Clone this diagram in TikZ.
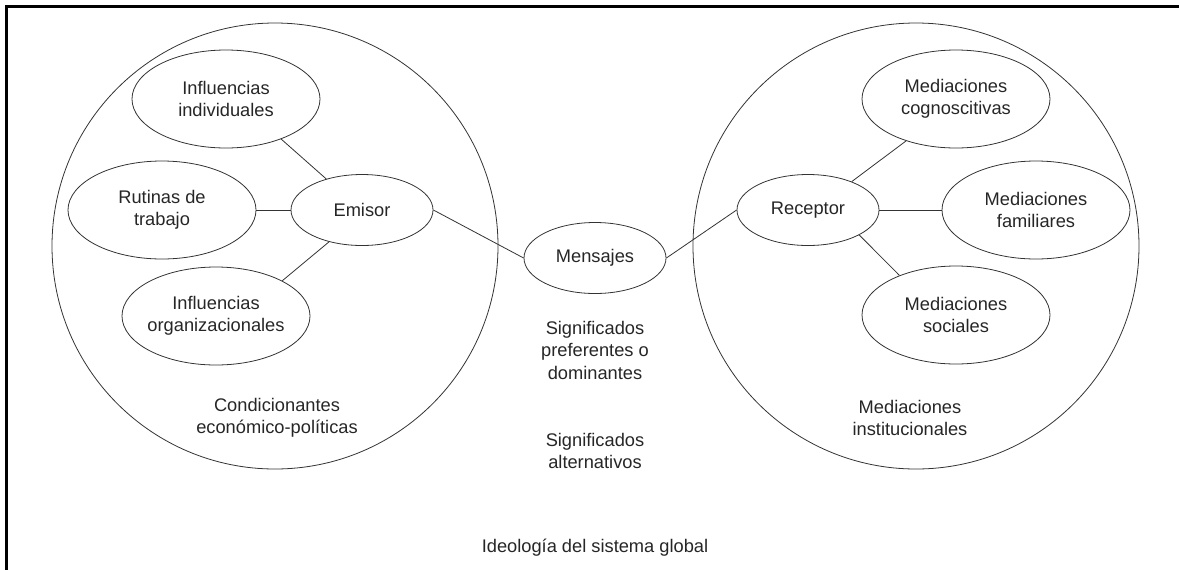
\documentclass[tikz,border=0pt]{standalone}
\usepackage{fontspec}
\setmainfont{Liberation Sans}
\usetikzlibrary{shapes.geometric}
\begin{document}
\begin{tikzpicture}[x=0.75pt,y=-0.75pt,
  every node/.style={font=\fontsize{13.7}{16.9}\selectfont, text=black!85},
  thin line/.style={draw=black!80, line width=0.6pt},
  sphere/.style={circle, thin line, minimum size=334.5pt, inner sep=0pt},
  bigell/.style={ellipse, thin line, minimum width=141pt, minimum height=73.5pt, inner sep=0pt},
  smallell/.style={ellipse, thin line, minimum width=106.5pt, minimum height=53.25pt, inner sep=0pt},
  caption/.style={align=center, inner sep=0pt},
  link/.style={thin line}
]
\useasboundingbox (0,0) rectangle (1179,569);

% frame
\coordinate (frTR) at (1179,6.5);
\coordinate (frTL) at (6.5,6.5);
\coordinate (frBL) at (6.5,569);
\draw[line width=1.6pt, line cap=rect] (frTR) -- (frTL) -- (frBL);

% the two spheres
\node[sphere] (leftsph) at (275,246) {};
\node[sphere] (rightsph) at (916,246) {};

% sender side
\node[bigell, label={[caption]center:Influencias\\individuales}] (indiv) at (226,99) {};
\node[bigell, label={[caption]center:Rutinas de\\trabajo}] (rutinas) at (162,210) {};
\node[bigell, label={[caption]center:Influencias\\organizacionales}] (organiz) at (216,316) {};
\node[smallell] (emisor) at (362,210) {Emisor};

% message
\node[smallell] (mensajes) at (595,258) {Mensajes};

% receiver side
\node[smallell] (receptor) at (808,210) {Receptor};
\node[bigell, label={[caption]center:Mediaciones\\cognoscitivas}] (cogn) at (956,99) {};
\node[bigell, label={[caption]center:Mediaciones\\familiares}] (famil) at (1036,210) {};
\node[bigell, label={[caption]center:Mediaciones\\sociales}] (social) at (956,315) {};

% connectors
\draw[link] (indiv.324) -- (emisor.139);
\draw[link] (rutinas.east) -- (emisor.west);
\draw[link] (organiz.28) -- (emisor.224);
\draw[link] (emisor.east) -- (mensajes.west);
\draw[link] (mensajes.east) -- (receptor.west);
\draw[link] (receptor.33) -- (cogn.220);
\draw[link] (receptor.east) -- (famil.west);
\draw[link] (receptor.334) -- (social.145);

% free captions
\node[caption] (condic) at (277,418) {Condicionantes\\económico-políticas};
\node[caption] (instit) at (910,418) {Mediaciones\\institucionales};
\node[caption] (prefer) at (595,350) {Significados\\preferentes o\\dominantes};
\node[caption] (altern) at (595,451) {Significados\\alternativos};
\node[caption] (ideolog) at (595,548) {Ideología del sistema global};
\end{tikzpicture}
\end{document}
